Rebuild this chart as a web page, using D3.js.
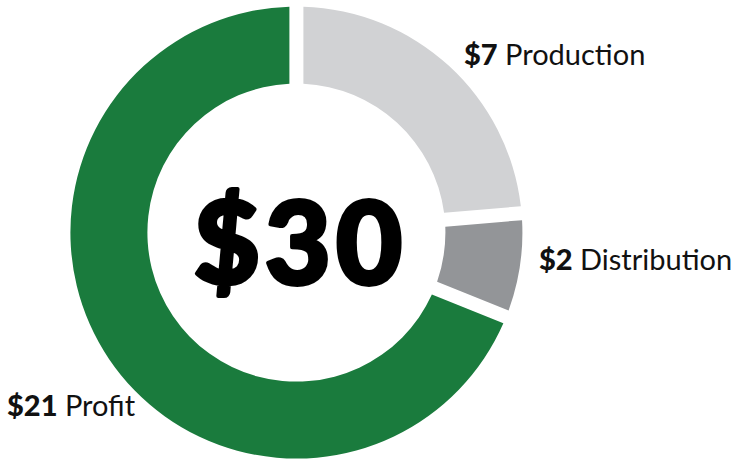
<!DOCTYPE html>
<html>
<head>
<meta charset="utf-8">
<script src="https://cdn.jsdelivr.net/npm/d3@7"></script>
<style>
  html, body { margin: 0; padding: 0; background: #fff; }
  svg { display: block; }
  text { font-family: Lato, "Open Sans", sans-serif; fill: #111; }
</style>
</head>
<body>
<svg id="chart" width="736" height="466"></svg>
<script>
const categories = ["Production", "Distribution", "Profit"];
const values = [7, 2, 21];
const valueLabels = ["$7", "$2", "$21"];
const totalLabel = "$30";
const colors = ["#d1d2d4", "#939598", "#1a7b3d"];

const svg = d3.select("#chart");
const cx = 296.4, cy = 232.6, outerR = 226, innerR = 149;
const g = svg.append("g").attr("transform", `translate(${cx},${cy})`);

const pie = d3.pie().sort(null).value(d => d).padAngle(14 / outerR);
const arc = d3.arc().innerRadius(innerR).outerRadius(outerR).padRadius(outerR);

g.selectAll("path").data(pie(values)).join("path")
  .attr("d", arc)
  .attr("fill", (d, i) => colors[i]);

g.append("text")
  .attr("text-anchor", "middle")
  .attr("x", 4).attr("y", 51.5)
  .style("font-size", "114px").style("font-weight", 900)
  .style("letter-spacing", "5px")
  .style("fill", "#000").style("stroke", "#000").style("stroke-width", 4)
  .style("stroke-linejoin", "round")
  .text(totalLabel);

const labelPos = [[464, 65], [539, 270], [7, 416]];
const lab = svg.selectAll("text.lab").data(categories).join("text")
  .attr("class", "lab")
  .attr("x", (d, i) => labelPos[i][0])
  .attr("y", (d, i) => labelPos[i][1])
  .style("font-size", "29px");
lab.append("tspan").style("font-weight", 900).text((d, i) => valueLabels[i]);
lab.append("tspan").text(d => " " + d);
</script>
</body>
</html>
